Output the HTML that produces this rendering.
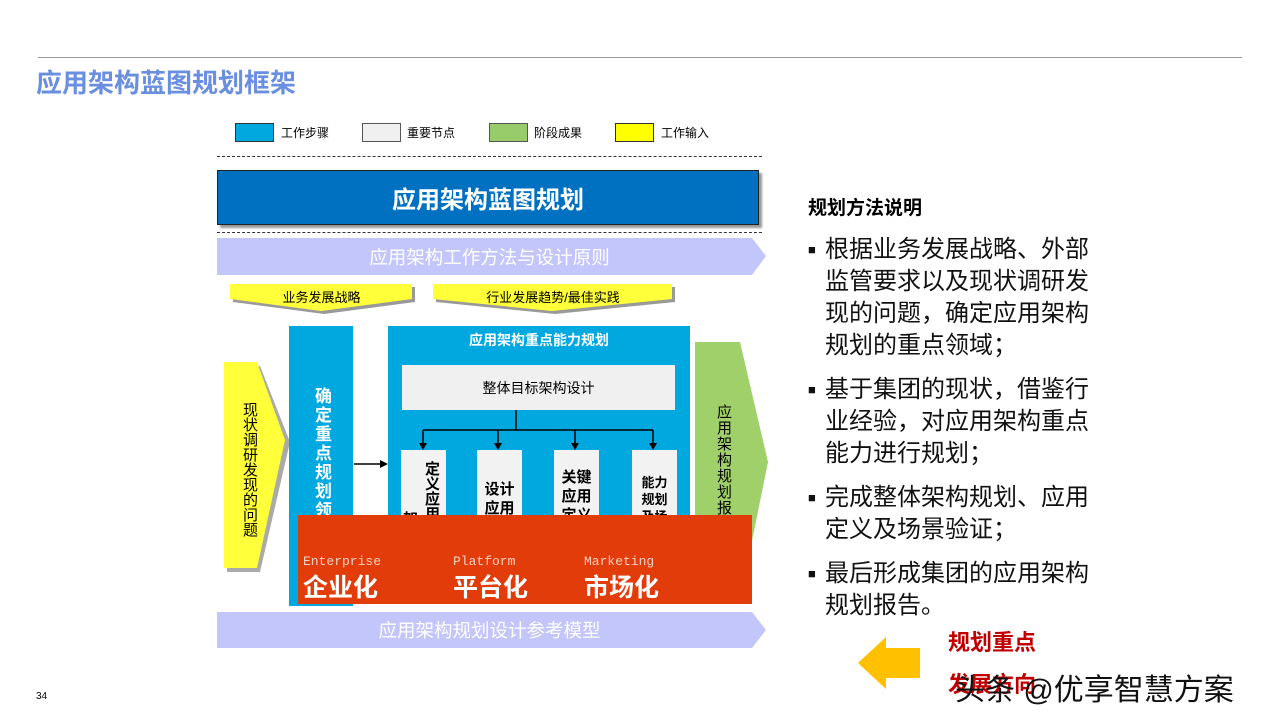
<!DOCTYPE html>
<html><head><meta charset="utf-8">
<style>
body{margin:0;width:1280px;height:720px;background:#fff;position:relative;overflow:hidden;font-family:"Liberation Sans","Noto Sans CJK SC",sans-serif;}
.a{position:absolute;}
.c{display:flex;align-items:center;justify-content:center;}
.v{writing-mode:vertical-rl;text-orientation:upright;white-space:nowrap;}
</style></head><body>
<div class="a" style="left:38px;top:57px;width:1204px;height:1px;background:#999"></div>
<div class="a" style="left:36px;top:63px;font-size:26px;font-weight:bold;color:#6a8fe0;">应用架构蓝图规划框架</div>

<div class="a" style="left:235px;top:123px;width:37px;height:17px;background:#00a8e0;border:1px solid #333"></div>
<div class="a" style="left:281px;top:124px;font-size:12px;">工作步骤</div>
<div class="a" style="left:362px;top:123px;width:37px;height:17px;background:#f0f0f0;border:1px solid #555"></div>
<div class="a" style="left:407px;top:124px;font-size:12px;">重要节点</div>
<div class="a" style="left:489px;top:123px;width:37px;height:17px;background:#98cc6a;border:1px solid #555"></div>
<div class="a" style="left:534px;top:124px;font-size:12px;">阶段成果</div>
<div class="a" style="left:615px;top:123px;width:37px;height:17px;background:#ffff00;border:1px solid #333"></div>
<div class="a" style="left:661px;top:124px;font-size:12px;">工作输入</div>

<div class="a" style="left:217px;top:156px;width:545px;border-top:1px dashed #333"></div>
<div class="a c" style="left:217px;top:170px;width:540px;height:53px;background:#0070c0;border:1px solid #222;box-shadow:3px 3px 2px #999;color:#fff;font-size:24px;font-weight:bold;">应用架构蓝图规划</div>
<div class="a" style="left:217px;top:232px;width:545px;border-top:1px dashed #333"></div>

<svg class="a" style="left:0;top:0" width="1280" height="720">
<polygon points="217,238 752,238 766,256 752,275 217,275" fill="#c3c6fa"/>
<polygon points="217,612 752,612 766,630 752,648 217,648" fill="#c3c6fa"/>
<polygon points="231,285 413,285 413,300 322,312 231,300" fill="#999" transform="translate(2,2)"/>
<polygon points="230,284 412,284 412,299 321,311 230,299" fill="#ffff3a"/>
<polygon points="434,285 673,285 673,300 553,312 434,300" fill="#999" transform="translate(2,2)"/>
<polygon points="433,284 672,284 672,299 552,311 433,299" fill="#ffff3a"/>
<polygon points="225,364 258,364 288,440 258,570 225,570" fill="#aaa" transform="translate(2,2)"/>
<polygon points="224,362 257,362 285,440 257,568 224,568" fill="#ffff3a"/>
<polygon points="695,342 740,342 768,462 740,600 695,600" fill="#9fd069"/>
<rect x="289" y="326" width="64" height="280" fill="#00a8e0"/>
<rect x="388" y="326" width="302" height="200" fill="#00a8e0"/>
<line x1="354" y1="464" x2="382" y2="464" stroke="#000" stroke-width="1.5"/>
<polygon points="388,464 380,460 380,468" fill="#000"/>
<line x1="516" y1="410" x2="516" y2="430" stroke="#000" stroke-width="1.5"/>
<line x1="423" y1="430" x2="653" y2="430" stroke="#000" stroke-width="1.5"/>
<g stroke="#000" stroke-width="1.5"><line x1="423" y1="430" x2="423" y2="444"/><line x1="498" y1="430" x2="498" y2="444"/><line x1="575" y1="430" x2="575" y2="444"/><line x1="653" y1="430" x2="653" y2="444"/></g>
<g fill="#000"><polygon points="419,443 427,443 423,450"/><polygon points="494,443 502,443 498,450"/><polygon points="571,443 579,443 575,450"/><polygon points="649,443 657,443 653,450"/></g>
<polygon points="920,648 886,648 886,637 858,663 886,689 886,678 920,678" fill="#ffc000"/>
</svg>

<div class="a c" style="left:217px;top:238px;width:545px;height:37px;color:#fff;font-size:18.5px;">应用架构工作方法与设计原则</div>
<div class="a c" style="left:217px;top:612px;width:545px;height:36px;color:#fff;font-size:18.5px;">应用架构规划设计参考模型</div>
<div class="a c" style="left:230px;top:286px;width:183px;height:20px;font-size:13px;">业务发展战略</div>
<div class="a c" style="left:433px;top:286px;width:240px;height:20px;font-size:13px;">行业发展趋势/最佳实践</div>
<div class="a v" style="left:240px;top:402px;font-size:15px;line-height:18px;">现状调研发现的问题</div>
<div class="a v" style="left:311px;top:387px;font-size:17px;letter-spacing:2px;font-weight:bold;color:#fff;line-height:20px;">确定重点规划领域</div>
<div class="a c" style="left:388px;top:328px;width:302px;height:24px;font-size:14px;font-weight:bold;color:#fff;">应用架构重点能力规划</div>
<div class="a c" style="left:402px;top:365px;width:273px;height:45px;background:#f0f0f0;font-size:14px;">整体目标架构设计</div>
<div class="a" style="left:401px;top:450px;width:45px;height:70px;background:#f2f2f2;overflow:hidden;"><div class="v" style="position:absolute;left:21px;top:11px;height:100px;font-size:15px;font-weight:bold;line-height:18px;">定义应用</div><div style="position:absolute;left:2px;top:58px;font-size:15px;font-weight:bold;">架</div></div>
<div class="a" style="left:477px;top:450px;width:45px;height:70px;background:#f2f2f2;overflow:hidden;font-size:15px;font-weight:bold;line-height:19px;text-align:center;padding-top:30px;box-sizing:border-box;">设计<br>应用</div>
<div class="a" style="left:554px;top:450px;width:45px;height:70px;background:#f2f2f2;overflow:hidden;font-size:15px;font-weight:bold;line-height:19px;text-align:center;padding-top:18px;box-sizing:border-box;">关键<br>应用<br>定义</div>
<div class="a" style="left:632px;top:450px;width:45px;height:70px;background:#f2f2f2;overflow:hidden;font-size:13px;font-weight:bold;line-height:17px;text-align:center;padding-top:24px;box-sizing:border-box;">能力<br>规划<br>及场</div>
<div class="a v" style="left:714px;top:404px;font-size:15px;letter-spacing:1px;line-height:18px;">应用架构规划报告</div>

<div class="a" style="left:298px;top:515px;width:454px;height:89px;background:#e23c0a;"></div>
<div class="a" style="left:303px;top:554px;color:#ffd0c0;font-family:'Liberation Mono',monospace;font-size:13px;">Enterprise</div>
<div class="a" style="left:303px;top:568px;color:#fff;font-size:25px;font-weight:bold;">企业化</div>
<div class="a" style="left:453px;top:554px;color:#ffd0c0;font-family:'Liberation Mono',monospace;font-size:13px;">Platform</div>
<div class="a" style="left:453px;top:568px;color:#fff;font-size:25px;font-weight:bold;">平台化</div>
<div class="a" style="left:584px;top:554px;color:#ffd0c0;font-family:'Liberation Mono',monospace;font-size:13px;">Marketing</div>
<div class="a" style="left:584px;top:568px;color:#fff;font-size:25px;font-weight:bold;">市场化</div>

<div class="a" style="left:808px;top:193px;font-size:19px;font-weight:bold;">规划方法说明</div>
<div class="a" style="left:808px;top:234px;width:290px;font-size:24px;line-height:32px;color:#111;">
<div style="display:flex;margin-bottom:12px"><span style="font-size:13px;width:17px;flex:none">■</span><span style="width:266px">根据业务发展战略、外部监管要求以及现状调研发现的问题，确定应用架构规划的重点领域；</span></div>
<div style="display:flex;margin-bottom:12px"><span style="font-size:13px;width:17px;flex:none">■</span><span style="width:266px">基于集团的现状，借鉴行业经验，对应用架构重点能力进行规划；</span></div>
<div style="display:flex;margin-bottom:12px"><span style="font-size:13px;width:17px;flex:none">■</span><span style="width:266px">完成整体架构规划、应用定义及场景验证；</span></div>
<div style="display:flex"><span style="font-size:13px;width:17px;flex:none">■</span><span style="width:266px">最后形成集团的应用架构规划报告。</span></div>
</div>
<div class="a" style="left:948px;top:625px;font-size:22px;font-weight:bold;color:#c00000;">规划重点</div>
<div class="a" style="left:948px;top:667px;font-size:22px;font-weight:bold;color:#c00000;">发展方向</div>
<div class="a" style="left:955px;top:665px;font-size:30px;color:#111;">头条 @优享智慧方案</div>
<div class="a" style="left:36px;top:691px;font-size:10px;">34</div>
</body></html>
